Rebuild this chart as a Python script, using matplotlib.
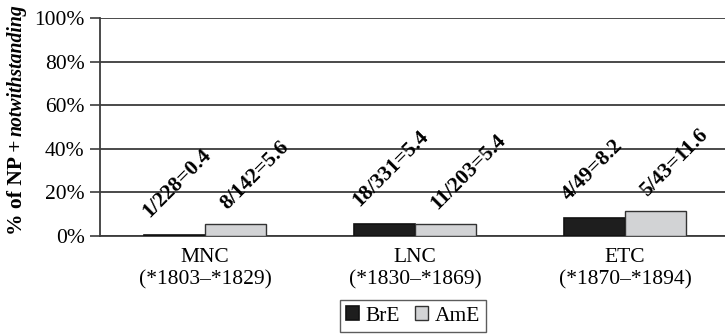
import matplotlib
matplotlib.use("Agg")
import matplotlib.pyplot as plt
import numpy as np

# Data
categories = ["MNC", "LNC", "ETC"]
periods = ["(*1803\u2013*1829)", "(*1830\u2013*1869)", "(*1870\u2013*1894)"]
bre_counts = ["1/228", "18/331", "4/49"]
bre_pct = [0.4, 5.4, 8.2]
ame_counts = ["8/142", "11/203", "5/43"]
ame_pct = [5.6, 5.4, 11.6]
y_ticks = [0, 20, 40, 60, 80, 100]

plt.rcParams["font.family"] = ["Liberation Serif", "DejaVu Serif"]

W, H = 725, 336
FS = 15.5
fig = plt.figure(figsize=(W / 100, H / 100), dpi=100)
ax = fig.add_axes([100 / W, 100 / H, (W - 100) / W, 218 / H])

dark = "#1e1e1e"
light = "#d2d3d5"
line_col = "#3c3c3c"

x = np.arange(len(categories))
bw = 0.29
ax.bar(x - bw / 2, bre_pct, bw, color=dark, edgecolor="#111111", linewidth=1.2,
       label="BrE", zorder=3)
ax.bar(x + bw / 2, ame_pct, bw, color=light, edgecolor="#333333", linewidth=1.0,
       label="AmE", zorder=3)

# Rotated value labels above each bar
px = 0.72  # points per pixel
for xi, c, v in zip(x - bw / 2, bre_counts, bre_pct):
    ax.annotate(f"{c}={v}", (xi, v), xytext=(-36 * px, 13.5 * px),
                textcoords="offset points", rotation=45, ha="left", va="bottom",
                fontsize=FS, fontweight="bold", zorder=4)
for xi, c, v in zip(x + bw / 2, ame_counts, ame_pct):
    ax.annotate(f"{c}={v}", (xi, v), xytext=(-19 * px, 10.5 * px),
                textcoords="offset points", rotation=45, ha="left", va="bottom",
                fontsize=FS, fontweight="bold", zorder=4)

ax.set_xlim(-0.5, (W - 205) / 210)
ax.set_ylim(0, 100)
ax.set_yticks(y_ticks)
ax.set_yticklabels([f"{t}%" for t in y_ticks])
ax.set_xticks(x)
ax.set_xticklabels([f"{c}\n{p}" for c, p in zip(categories, periods)])
ax.tick_params(axis="x", length=0, pad=9, labelsize=FS)
ax.tick_params(axis="y", length=7, width=1.2, color=line_col, pad=4, labelsize=FS)

ax.yaxis.grid(True, color=line_col, linewidth=1.3, zorder=0)
ax.set_axisbelow(True)
for s in ["top", "right"]:
    ax.spines[s].set_visible(False)
for s in ["left", "bottom"]:
    ax.spines[s].set_color(line_col)
    ax.spines[s].set_linewidth(1.3)

# Y-axis title in two runs: bold, then bold italic
base_x = 21.5 / W
t1 = fig.text(base_x, (H - 235) / H, "% of NP +", rotation=90,
              rotation_mode="anchor", ha="left", va="baseline",
              fontsize=FS, fontweight="bold")
fig.canvas.draw()
bb = t1.get_window_extent()
fig.text(base_x, (bb.y1 + 4) / H, "notwithstanding", rotation=90,
         rotation_mode="anchor", ha="left", va="baseline",
         fontsize=14.2, fontweight="bold", fontstyle="italic")

leg = fig.legend(loc="center", bbox_to_anchor=(413 / W, (H - 316) / H), ncol=2,
                 frameon=True, fancybox=False, fontsize=FS, handlelength=0.6,
                 handleheight=0.6, handletextpad=0.3, columnspacing=0.7,
                 borderpad=0.3, borderaxespad=0)
leg.get_frame().set_edgecolor("#333333")
leg.get_frame().set_linewidth(1.0)

fig.savefig("out.png", dpi=100)
